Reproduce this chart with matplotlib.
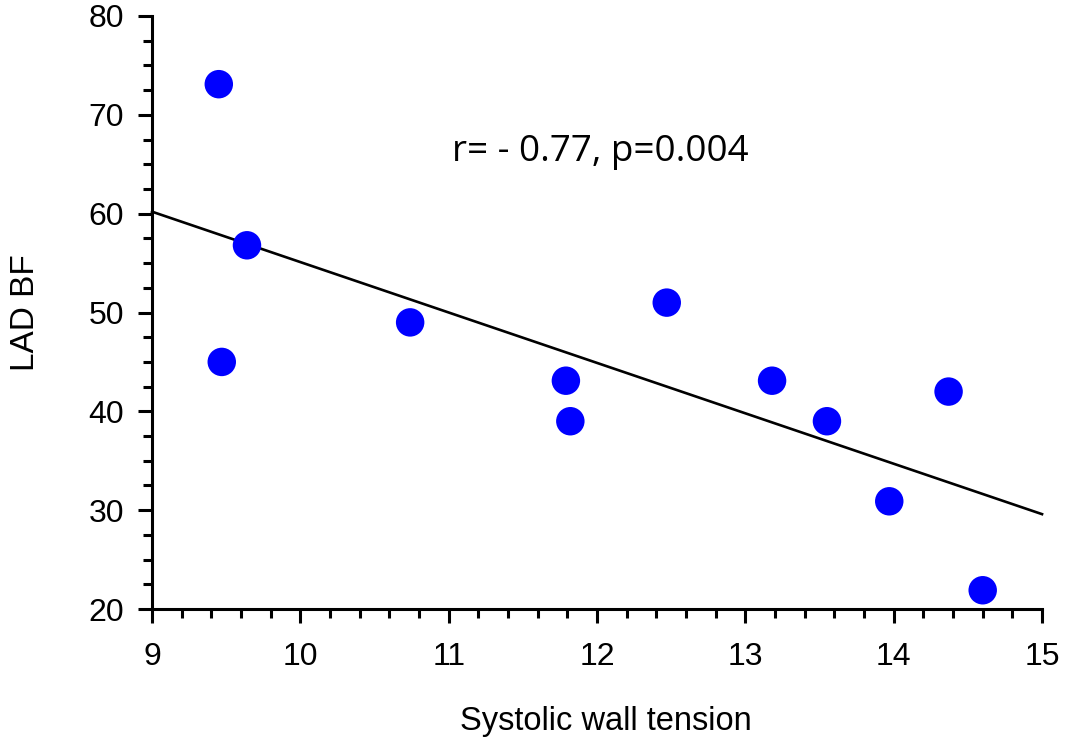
import matplotlib
matplotlib.use("Agg")
import matplotlib.pyplot as plt
from matplotlib.ticker import MultipleLocator

plt.rcParams['font.family'] = ['Liberation Sans', 'DejaVu Sans']

wall_tension = [9.45, 9.64, 9.47, 10.74, 11.79, 11.82, 12.47, 13.18, 13.55, 13.97, 14.37, 14.60]
lad_bf = [73.1, 56.8, 45.0, 49.0, 43.1, 39.0, 51.0, 43.1, 39.0, 30.9, 42.0, 21.9]
fit_x = [9, 15]
fit_y = [60.2, 29.6]
annotation = "r= - 0.77, p=0.004"

fig = plt.figure(figsize=(10.67, 7.43), dpi=100)
ax = fig.add_axes([0.1425, 0.1803, 0.9766 - 0.1425, 0.9785 - 0.1803])

ax.plot(fit_x, fit_y, color='black', lw=1.9, zorder=2, clip_on=False)
ax.scatter(wall_tension, lad_bf, s=420, color='#0000ff', edgecolors='none', zorder=3, clip_on=False)

ax.set_xlim(9, 15)
ax.set_ylim(20, 80)
ax.xaxis.set_major_locator(MultipleLocator(1))
ax.xaxis.set_minor_locator(MultipleLocator(0.2))
ax.yaxis.set_major_locator(MultipleLocator(10))
ax.yaxis.set_minor_locator(MultipleLocator(2.5))

for s in ['top', 'right']:
    ax.spines[s].set_visible(False)
for s in ['left', 'bottom']:
    ax.spines[s].set_linewidth(2.2)

ax.tick_params(which='major', direction='out', length=10, width=2.2, labelsize=23)
ax.tick_params(axis='y', which='major', pad=10)
ax.tick_params(axis='x', which='major', pad=14)
ax.tick_params(which='minor', direction='out', length=6.5, width=2.2)

ax.set_xlabel("Systolic wall tension", fontsize=23.5)
ax.xaxis.set_label_coords(0.51, -0.163)
ax.set_ylabel("LAD BF", fontsize=24, labelpad=34)

ax.text(12.02, 66.2, annotation, fontsize=26.5, ha='center', va='center',
        family=['Open Sans', 'DejaVu Sans'])

fig.savefig("out.png", dpi=100)
